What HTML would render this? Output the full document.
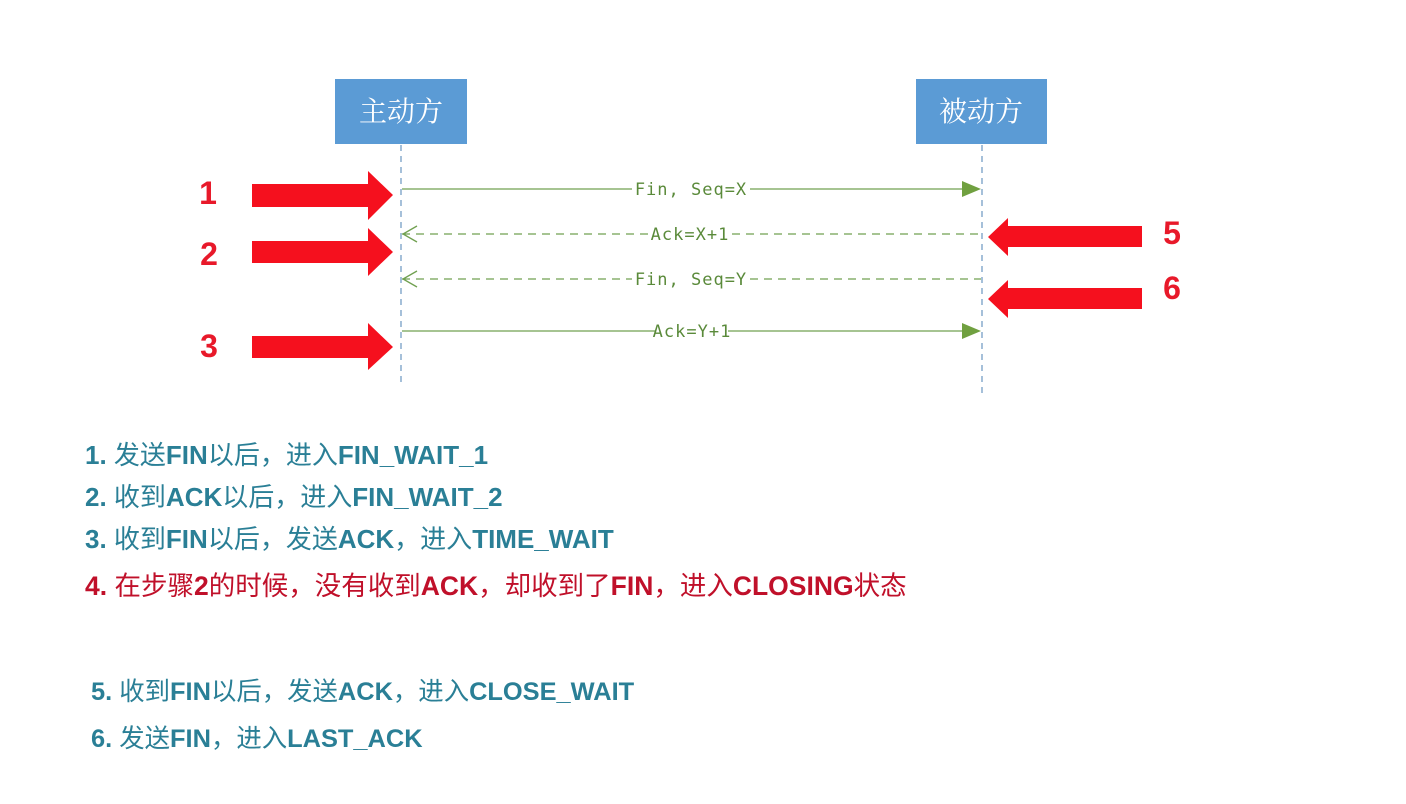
<!DOCTYPE html>
<html><head><meta charset="utf-8">
<style>
html,body{margin:0;padding:0;background:#fff;}
body{width:1406px;height:804px;position:relative;overflow:hidden;}
svg{position:absolute;left:0;top:0;}
.t{position:absolute;font-family:"Liberation Sans","Noto Sans CJK SC",sans-serif;font-size:26px;color:#2a7f96;white-space:nowrap;line-height:30px;}
.t b{font-weight:bold;}
.r{color:#c0102a;}
</style></head>
<body>
<svg width="1406" height="804" viewBox="0 0 1406 804">
<rect x="335" y="79" width="132" height="65" fill="#5b9bd5"/>
<rect x="916" y="79" width="131" height="65" fill="#5b9bd5"/>
<text x="401" y="121" fill="#fff" font-size="28" text-anchor="middle" font-family="'Noto Serif CJK SC',serif">主动方</text>
<text x="981" y="121" fill="#fff" font-size="28" text-anchor="middle" font-family="'Noto Serif CJK SC',serif">被动方</text>
<line x1="401" y1="145" x2="401" y2="384" stroke="#6a96c0" stroke-width="1.2" stroke-dasharray="6,5"/>
<line x1="982" y1="145" x2="982" y2="396" stroke="#6a96c0" stroke-width="1.2" stroke-dasharray="6,5"/>
<g stroke="#70a050" stroke-width="1.3" fill="none">
<line x1="402" y1="189" x2="632" y2="189"/><line x1="750" y1="189" x2="965" y2="189"/>
<line x1="402" y1="234" x2="648" y2="234" stroke-dasharray="8,6"/><line x1="732" y1="234" x2="981" y2="234" stroke-dasharray="8,6"/>
<line x1="402" y1="279" x2="632" y2="279" stroke-dasharray="8,6"/><line x1="750" y1="279" x2="981" y2="279" stroke-dasharray="8,6"/>
<line x1="402" y1="331" x2="656" y2="331"/><line x1="728" y1="331" x2="965" y2="331"/>
<polyline points="417,226 403,234 417,242"/><polyline points="417,271 403,279 417,287"/>
</g>
<polygon points="962,181 981,189 962,197" fill="#70a040"/>
<polygon points="962,323 981,331 962,339" fill="#70a040"/>
<g fill="#5a8a3a" font-family="'DejaVu Sans Mono','Liberation Mono',monospace" font-size="17" letter-spacing="1" text-anchor="middle">
<text x="691" y="195">Fin, Seq=X</text>
<text x="690" y="240">Ack=X+1</text>
<text x="691" y="285">Fin, Seq=Y</text>
<text x="692" y="337">Ack=Y+1</text>
</g>
<g fill="#f5101e">
<polygon points="252,184 368,184 368,171 393,195 368,220 368,207 252,207"/>
<polygon points="252,241 368,241 368,228 393,252 368,276 368,263 252,263"/>
<polygon points="252,336 368,336 368,323 393,347 368,370 368,358 252,358"/>
<polygon points="1142,226 1008,226 1008,218 988,237 1008,256 1008,247 1142,247"/>
<polygon points="1142,288 1008,288 1008,280 988,299 1008,318 1008,309 1142,309"/>
</g>
<g fill="#e8192a" font-family="'Liberation Sans',sans-serif" font-size="32" font-weight="bold" text-anchor="middle">
<text x="208" y="204">1</text>
<text x="209" y="265">2</text>
<text x="209" y="357">3</text>
<text x="1172" y="244">5</text>
<text x="1172" y="299">6</text>
</g>
</svg>
<div class="t" style="left:85px;top:440px;"><b>1.</b> 发送<b>FIN</b>以后，进入<b>FIN_WAIT_1</b></div>
<div class="t" style="left:85px;top:482px;"><b>2.</b> 收到<b>ACK</b>以后，进入<b>FIN_WAIT_2</b></div>
<div class="t" style="left:85px;top:524px;"><b>3.</b> 收到<b>FIN</b>以后，发送<b>ACK</b>，进入<b>TIME_WAIT</b></div>
<div class="t r" style="left:85px;top:571px;font-size:26.5px;"><b>4.</b> 在步骤<b>2</b>的时候，没有收到<b>ACK</b>，却收到了<b>FIN</b>，进入<b>CLOSING</b>状态</div>
<div class="t" style="left:91px;top:677px;font-size:25.4px;"><b>5.</b> 收到<b>FIN</b>以后，发送<b>ACK</b>，进入<b>CLOSE_WAIT</b></div>
<div class="t" style="left:91px;top:724px;font-size:25.4px;"><b>6.</b> 发送<b>FIN</b>，进入<b>LAST_ACK</b></div>
</body></html>
